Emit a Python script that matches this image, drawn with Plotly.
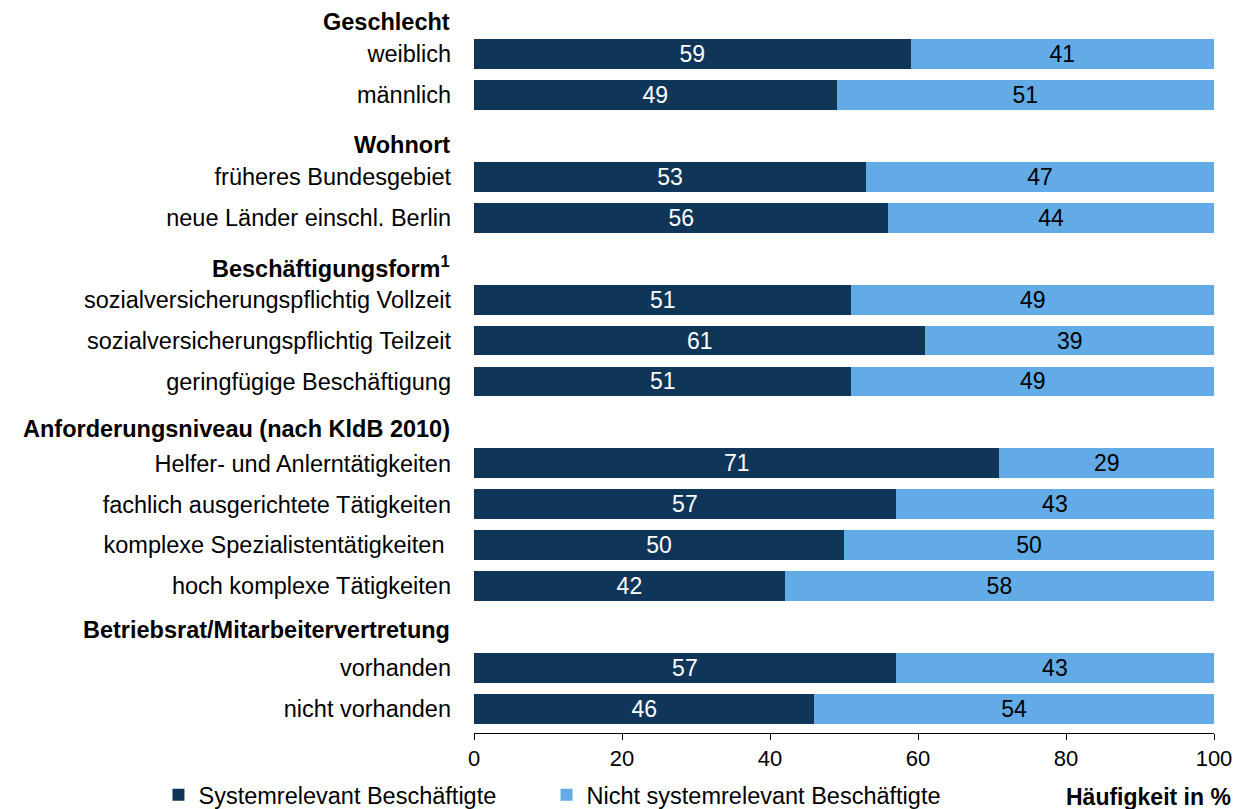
import plotly.graph_objects as go

# group headers and their rows, top to bottom
groups = ["Geschlecht", "Wohnort", "Beschäftigungsform<sup>1</sup>",
          "Anforderungsniveau (nach KldB 2010)", "Betriebsrat/Mitarbeitervertretung"]
group_items = [
    ["weiblich", "männlich"],
    ["früheres Bundesgebiet", "neue Länder einschl. Berlin"],
    ["sozialversicherungspflichtig Vollzeit", "sozialversicherungspflichtig Teilzeit",
     "geringfügige Beschäftigung"],
    ["Helfer- und Anlerntätigkeiten", "fachlich ausgerichtete Tätigkeiten",
     "komplexe Spezialistentätigkeiten ", "hoch komplexe Tätigkeiten"],
    ["vorhanden", "nicht vorhanden"],
]
systemrelevant = [59, 49, 53, 56, 51, 61, 51, 71, 57, 50, 42, 57, 46]
nicht_systemrelevant = [41, 51, 47, 44, 49, 39, 49, 29, 43, 50, 58, 43, 54]

header_shift = [-9, -9, -8, -7, -3]

DARK = "#0f3659"
LIGHT = "#62abe6"
FONT = "Liberation Sans, Arial, sans-serif"

# row positions: a header takes one row, then its items
pos = []
labels = []
header_pos = []
i = 0
for g, items in zip(groups, group_items):
    header_pos.append(i)
    i += 1
    for it in items:
        pos.append(i)
        labels.append(it)
        i += 1

fig = go.Figure()
fig.add_trace(go.Bar(
    y=pos, x=systemrelevant, orientation="h", name="Systemrelevant Beschäftigte",
    marker=dict(color=DARK, line=dict(width=0)), width=0.73, legend="legend",
    text=systemrelevant, textposition="inside", insidetextanchor="middle",
    textangle=0, constraintext="none",
    textfont=dict(color="white", size=23, family=FONT), hoverinfo="skip",
))
fig.add_trace(go.Bar(
    y=pos, x=nicht_systemrelevant, orientation="h", name="Nicht systemrelevant Beschäftigte",
    marker=dict(color=LIGHT, line=dict(width=0)), width=0.73, legend="legend2",
    text=nicht_systemrelevant, textposition="inside", insidetextanchor="middle",
    textangle=0, constraintext="none",
    textfont=dict(color="black", size=23, family=FONT), hoverinfo="skip",
))

for g, hp, sh in zip(groups, header_pos, header_shift):
    fig.add_annotation(x=0, y=hp, xref="x", yref="y", text="<b>" + g + "</b>",
                       showarrow=False, xanchor="right", xshift=-22, yshift=sh,
                       font=dict(size=23.5, color="black", family=FONT))

fig.add_annotation(x=1.0257, y=-0.0873, xref="paper", yref="paper", text="<b>Häufigkeit in %</b>",
                   showarrow=False, xanchor="right", yanchor="middle",
                   font=dict(size=23, color="black", family=FONT))

legend_style = dict(orientation="h", y=-0.0846, xanchor="left", yanchor="middle",
                    itemwidth=30, bgcolor="rgba(0,0,0,0)",
                    font=dict(size=23.5, family=FONT))

fig.update_layout(
    width=1241, height=809,
    barmode="stack", bargap=0.27,
    plot_bgcolor="white", paper_bgcolor="white",
    margin=dict(l=474, r=27, t=0, b=76, autoexpand=False),
    font=dict(family=FONT, size=23.5, color="black"),
    showlegend=True,
    legend=dict(x=-0.4264, **legend_style),
    legend2=dict(x=0.098, **legend_style),
    uniformtext=dict(minsize=10, mode="show"),
)
fig.update_xaxes(range=[0, 100], tickvals=[0, 20, 40, 60, 80, 100],
                 showgrid=False, zeroline=False, showline=True, linecolor="black",
                 linewidth=1, ticks="outside", ticklen=6, tickcolor="black",
                 tickfont=dict(size=22, family=FONT))
fig.update_yaxes(range=[17.586, -0.318], tickvals=pos, ticktext=labels,
                 showgrid=False, zeroline=False, showline=False,
                 ticks="", ticklabelstandoff=22, tickfont=dict(size=23.5, family=FONT))

fig.write_html("out.html", config={"displayModeBar": False},
               post_script="document.body.style.margin='0px';")
